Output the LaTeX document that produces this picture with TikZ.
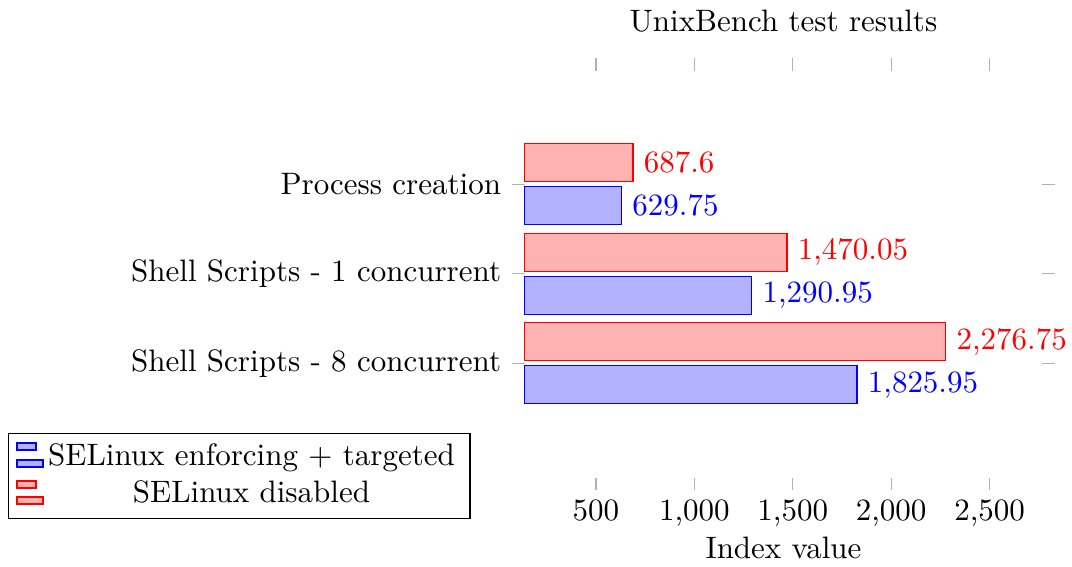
\documentclass[tikz,border=0pt]{standalone}
\begin{document}
\begin{tikzpicture}[x=0.3226pt,y=-0.3226pt,line width=0.4pt,
	axtick/.style={gray!60},
	redbar/.style={draw=red,fill=red!30},
	bluebar/.style={draw=blue,fill=blue!30}]
\useasboundingbox (0,0) rectangle (1072,567);
\node[anchor=base] (title) at (783.5,32) {UnixBench test results};
% value axis: 0.1968 px per unit, zero at 497.6
\foreach \v/\t in {500/500, 1000/{1,000}, 1500/{1,500}, 2000/{2,000}, 2500/{2,500}} {
	\draw[axtick] (497.6+0.1968*\v,58) -- ++(0,13);
	\draw[axtick] (497.6+0.1968*\v,478) -- ++(0,12);
	\node[anchor=base] (xl\v) at (497.6+0.1968*\v,521) {\t};
}
\node[anchor=base] (xlabel) at (783.5,559) {Index value};
\foreach \n/\yc/\lbl/\r/\rt/\b/\bt in {
	proc/184.3/Process creation/687.6/687.6/629.75/629.75,
	shone/273.8/Shell Scripts - 1 concurrent/1470.05/{1,470.05}/1290.95/{1,290.95},
	sheight/363.3/Shell Scripts - 8 concurrent/2276.75/{2,276.75}/1825.95/{1,825.95}} {
	\draw[axtick] (512,\yc) -- ++(13,0);
	\draw[axtick] (1042,\yc) -- ++(13,0);
	\node[anchor=east] (\n) at (512,\yc) {\lbl};
	\draw[redbar] (524.3,\yc-40.5) rectangle (497.6+0.1968*\r,\yc-2.5);
	\draw[bluebar] (524.3,\yc+2.5) rectangle (497.6+0.1968*\b,\yc+40.5);
	\node[anchor=west,text=red] (\n-r) at (497.6+0.1968*\r,\yc-21.5) {\rt};
	\node[anchor=west,text=blue] (\n-b) at (497.6+0.1968*\b,\yc+21.5) {\bt};
}
% legend
\draw (8.5,433.5) rectangle (470,518.5);
\draw[bluebar] (17,443) rectangle (36,450);
\draw[bluebar] (17,460) rectangle (43,467);
\draw[redbar] (17,481) rectangle (36,488);
\draw[redbar] (17,497) rectangle (43,504);
\node[anchor=base] (enforcing) at (251.5,465.5) {SELinux enforcing + targeted};
\node[anchor=base] (disabled) at (251.5,503) {SELinux disabled};
\end{tikzpicture}
\end{document}
